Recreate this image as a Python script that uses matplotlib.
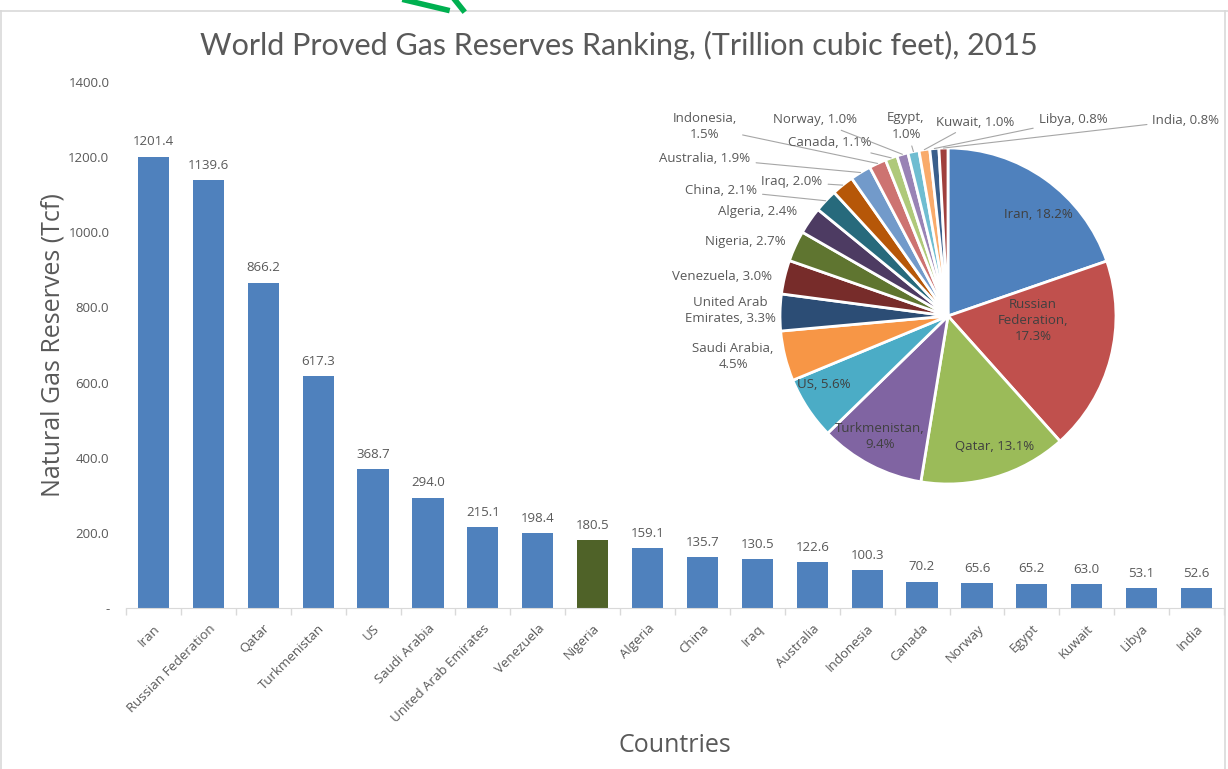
import matplotlib.pyplot as plt
from matplotlib.lines import Line2D
import numpy as np

countries = ['Iran', 'Russian Federation', 'Qatar', 'Turkmenistan', 'US', 'Saudi Arabia',
             'United Arab Emirates', 'Venezuela', 'Nigeria', 'Algeria', 'China', 'Iraq',
             'Australia', 'Indonesia', 'Canada', 'Norway', 'Egypt', 'Kuwait', 'Libya', 'India']
reserves = [1201.4, 1139.6, 866.2, 617.3, 368.7, 294.0, 215.1, 198.4, 180.5, 159.1,
            135.7, 130.5, 122.6, 100.3, 70.2, 65.6, 65.2, 63.0, 53.1, 52.6]
shares = ['18.2%', '17.3%', '13.1%', '9.4%', '5.6%', '4.5%', '3.3%', '3.0%', '2.7%', '2.4%',
          '2.1%', '2.0%', '1.9%', '1.5%', '1.1%', '1.0%', '1.0%', '1.0%', '0.8%', '0.8%']
pie_names = ['Iran', 'Russian\nFederation', 'Qatar', 'Turkmenistan', 'US', 'Saudi Arabia',
             'United Arab\nEmirates', 'Venezuela', 'Nigeria', 'Algeria', 'China', 'Iraq',
             'Australia', 'Indonesia', 'Canada', 'Norway', 'Egypt', 'Kuwait', 'Libya', 'India']

pie_colors = ['#4F81BD', '#C0504D', '#9BBB59', '#8064A2', '#4BACC6', '#F79646',
              '#2C4D75', '#772C2A', '#5F7530', '#4D3B62', '#276A7C', '#B65708',
              '#729ACA', '#CD7371', '#AFC97A', '#9983B5', '#6FBDD1', '#F9AB6B',
              '#3A5F8B', '#A0403D']

plt.rcParams['font.family'] = ['Open Sans', 'DejaVu Sans']
txt = '#595959'
W, H = 1228, 769

fig = plt.figure(figsize=(W / 100, H / 100), dpi=100)

# decoration: border and clipped logo at the top
fig.add_artist(Line2D([0, 1], [1 - 11 / H, 1 - 11 / H], color='#D9D9D9', lw=1.2))
fig.add_artist(Line2D([1.5 / W, 1.5 / W], [0, 1 - 11 / H], color='#D9D9D9', lw=1.2))
fig.add_artist(Line2D([1 - 3 / W, 1 - 3 / W], [0, 1 - 11 / H], color='#D9D9D9', lw=1.2))
fig.add_artist(Line2D([405 / W, 447 / W], [1, 1 - 10 / H], color='#00B050', lw=4))
fig.add_artist(Line2D([455 / W, 463 / W], [1, 1 - 10 / H], color='#00B050', lw=4))

# bar chart
ax = fig.add_axes([126 / W, (H - 608) / H, 1098 / W, (608 - 82) / H])
x = np.arange(len(countries))
bar_colors = ['#4F6228' if c == 'Nigeria' else '#4F81BD' for c in countries]
ax.bar(x, reserves, width=0.57, color=bar_colors)
for xi, v in zip(x, reserves):
    ax.annotate('%.1f' % v, (xi, v), xytext=(0, 6), textcoords='offset points',
                ha='center', va='bottom', fontsize=9.5, color=txt)

ax.set_xlim(-0.5, len(countries) - 0.5)
ax.set_ylim(0, 1400)
yt = np.arange(0, 1401, 200)
ax.set_yticks(yt)
ax.set_yticklabels(['-' if v == 0 else '%.1f' % v for v in yt], fontsize=9.5, color=txt)
ax.tick_params(axis='y', length=0, pad=12)
ax.set_xticks(x)
ax.set_xticklabels(countries, rotation=45, ha='right', rotation_mode='anchor',
                   fontsize=9.5, color=txt)
ax.set_xticks(np.arange(-0.5, len(countries), 1), minor=True)
ax.tick_params(axis='x', which='major', length=0, pad=10)
ax.tick_params(axis='x', which='minor', length=5, color='#D9D9D9', width=1)
for s in ['top', 'right', 'left']:
    ax.spines[s].set_visible(False)
ax.spines['bottom'].set_color('#D9D9D9')
ax.set_ylabel('Natural Gas Reserves (Tcf)', fontsize=18, color=txt, labelpad=2)
ax.set_xlabel('Countries', fontsize=18, color=txt, labelpad=6)

fig.text(619 / W, 1 - 45 / H, 'World Proved Gas Reserves Ranking, (Trillion cubic feet), 2015',
         ha='center', va='center', fontsize=22, color=txt, family=['Lato', 'DejaVu Sans'])

# pie chart
cx, cy, r = 948, 316, 168
pax = fig.add_axes([(cx - r) / W, (H - cy - r) / H, 2 * r / W, 2 * r / H])
wedges, _ = pax.pie(reserves, colors=pie_colors, startangle=90, counterclock=False,
                    wedgeprops=dict(edgecolor='white', linewidth=2))
pax.set_xlim(-1, 1)
pax.set_ylim(-1, 1)
pax.axis('off')

# label positions in pixels (text centre), flag = draw leader line
inside = {0: (1038, 215), 1: (1033, 320), 2: (995, 446), 3: (880, 437), 4: (824, 385)}
outside = {5: (733, 356, False), 6: (730, 311, False), 7: (722, 276, False),
           8: (745, 242, False), 9: (758, 212, False), 10: (721, 190, True),
           11: (792, 182, True), 12: (705, 158, True), 13: (705, 127, True),
           14: (830, 143, True), 15: (815, 120, True), 16: (906, 126, True),
           17: (975, 122, True), 18: (1073, 120, True), 19: (1186, 120, True)}
two_line = {1, 3, 5, 13, 16}

def to_data(px, py):
    return (px - cx) / r, (cy - py) / r

for i, w in enumerate(wedges):
    sep = ',\n' if i in two_line else ', '
    label = pie_names[i] + sep + shares[i]
    if i in inside:
        pax.text(*to_data(*inside[i]), label, ha='center', va='center', fontsize=9.5,
                 color='#404040', linespacing=1.3)
    else:
        px, py, lead = outside[i]
        ang = np.deg2rad((w.theta1 + w.theta2) / 2)
        tip = (np.cos(ang), np.sin(ang))
        if lead:
            pax.annotate(label, xy=tip, xytext=to_data(px, py), ha='center', va='center',
                         fontsize=9.5, color=txt, linespacing=1.3, annotation_clip=False,
                         arrowprops=dict(arrowstyle='-', color='#A6A6A6', lw=0.8,
                                         shrinkA=2, shrinkB=0))
        else:
            pax.text(*to_data(px, py), label, ha='center', va='center', fontsize=9.5,
                     color=txt, linespacing=1.3)

plt.savefig('out.png', dpi=100)
